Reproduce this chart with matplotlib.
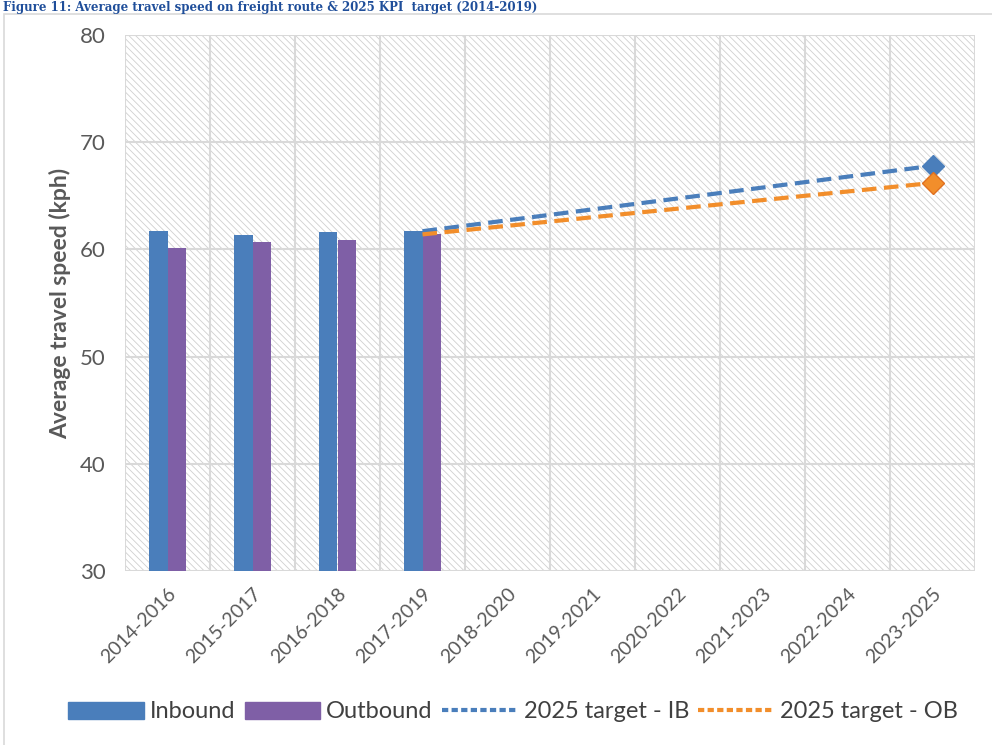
import matplotlib
matplotlib.use("Agg")
import matplotlib.pyplot as plt
import numpy as np
from matplotlib.patches import Rectangle
from matplotlib.lines import Line2D

categories = ["2014-2016", "2015-2017", "2016-2018", "2017-2019", "2018-2020",
              "2019-2021", "2020-2022", "2021-2023", "2022-2024", "2023-2025"]
inbound = [61.7, 61.3, 61.6, 61.7]
outbound = [60.1, 60.7, 60.9, 61.4]
target_ib_cats = ["2017-2019", "2023-2025"]
target_ib = [61.7, 67.8]
target_ob = [61.4, 66.2]
yticks = [30, 40, 50, 60, 70, 80]

plt.rcParams['font.family'] = ['Lato', 'DejaVu Sans']
plt.rcParams['hatch.linewidth'] = 0.6
plt.rcParams['hatch.color'] = '#c8c8c8'

W, H = 992, 745
fig = plt.figure(figsize=(W/100, H/100), dpi=100)
ax = fig.add_axes([125/W, 1-571/H, 850/W, (571-35)/H])

# outer frame
fig.add_artist(Rectangle((4/W, -0.1), 1.2, 1-14/H+0.1, transform=fig.transFigure,
                         fill=False, edgecolor='#d9d9d9', lw=1.2))
fig.text(0.003, 1.0 - 1/H, "Figure 11: Average travel speed on freight route & 2025 KPI  target (2014-2019)",
         color='#1f4e9a', fontsize=8.5, fontweight='bold', family='DejaVu Serif', va='top', ha='left')

x = np.arange(len(categories))
ax.set_xlim(-0.5, len(categories)-0.5)
ax.set_ylim(30, 80)
ax.add_patch(Rectangle((-0.5, 30), len(categories), 50, facecolor='white',
                       hatch='\\\\\\\\\\', edgecolor='#cfcfcf', lw=0, zorder=0))
for y in yticks:
    ax.axhline(y, color='#d9d9d9', lw=1.5, zorder=1)
for b in np.arange(-0.5, len(categories)+0.5, 1):
    ax.axvline(b, color='#d9d9d9', lw=1.5, zorder=1)

bw = 0.22
xi = np.arange(len(inbound))
ax.bar(xi - bw/2, inbound, bw, color='#4a7ebb', zorder=3, label='Inbound')
ax.bar(xi + bw/2, outbound, bw, color='#7f5fa6', zorder=3, label='Outbound')

tx = [categories.index(c) for c in target_ib_cats]
ax.plot(tx, target_ib, color='#4a7ebb', lw=3, ls=(0, (3.5, 1.8)), zorder=4)
ax.plot(tx, target_ob, color='#f28e2b', lw=3, ls=(0, (3.5, 1.8)), zorder=4)
ax.plot(tx[1], target_ib[1], marker='D', ms=11, color='#4a7ebb', zorder=5)
ax.plot(tx[1], target_ob[1], marker='D', ms=11, color='#f28e2b', mec='#e07020', zorder=5)

for s in ax.spines.values():
    s.set_visible(False)
ax.set_yticks(yticks)
ax.set_yticklabels([str(v) for v in yticks], fontsize=16, color='#595959')
ax.set_xticks(x)
ax.set_xticklabels(categories, rotation=45, ha='right', rotation_mode='anchor',
                   fontsize=14, color='#595959')
ax.tick_params(axis='y', length=0, pad=14)
ax.tick_params(axis='x', length=0, pad=10)
ax.set_ylabel("Average travel speed (kph)", fontsize=16.5, fontweight='bold', color='#595959', labelpad=6)

handles = [Rectangle((0, 0), 1, 1, color='#4a7ebb'),
           Rectangle((0, 0), 1, 1, color='#7f5fa6'),
           Line2D([], [], color='#4a7ebb', lw=3, ls=(0, (1.5, 0.8))),
           Line2D([], [], color='#f28e2b', lw=3, ls=(0, (1.5, 0.8)))]
labels = ['Inbound', 'Outbound', '2025 target - IB', '2025 target - OB']
fig.legend(handles, labels, loc='center', bbox_to_anchor=(513/W, 1-712/H), ncol=4,
           frameon=False, fontsize=17, handlelength=3.2, handleheight=0.7,
           columnspacing=0.4, handletextpad=0.25, labelcolor='#404040')

fig.savefig("out.png", dpi=100)
